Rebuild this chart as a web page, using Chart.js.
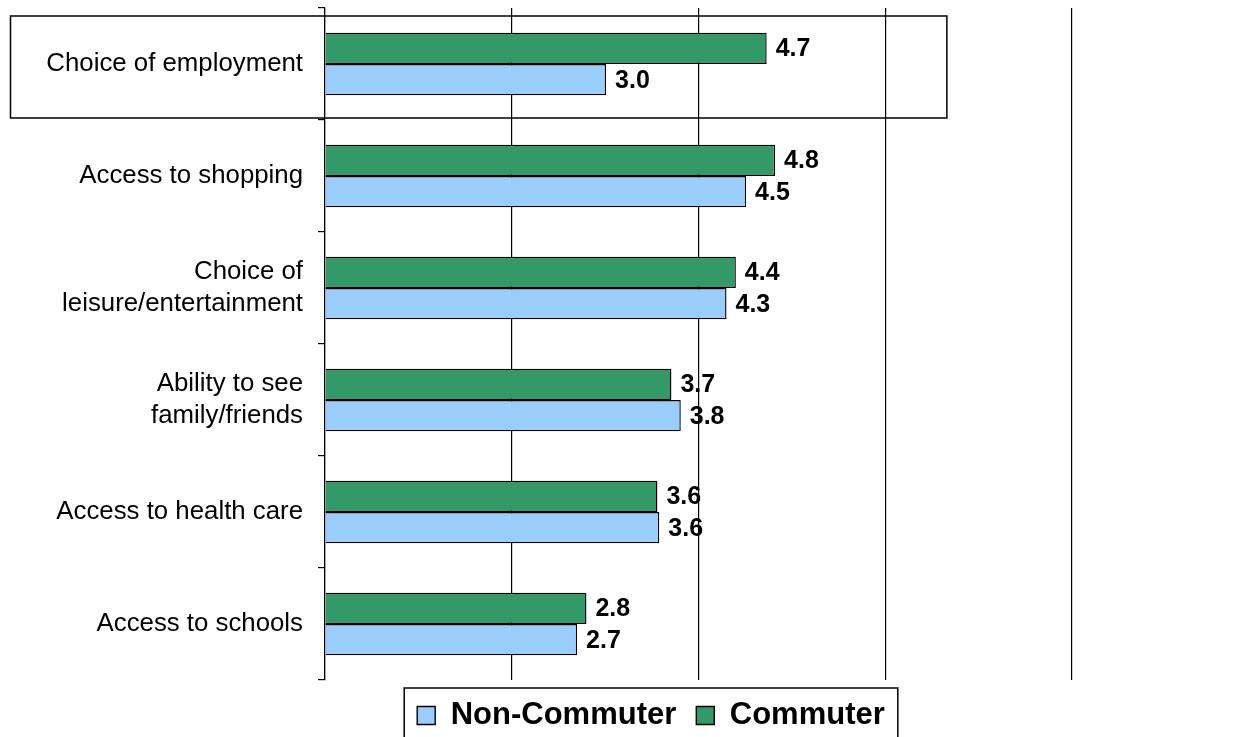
<!DOCTYPE html>
<html>
<head>
<meta charset="utf-8">
<script src="https://cdn.jsdelivr.net/npm/chart.js@4.4.1/dist/chart.umd.min.js"></script>
<style>
  html, body { margin: 0; padding: 0; background: #ffffff; overflow: hidden; }
  #wrap { position: relative; width: 1244px; height: 741px; }
</style>
</head>
<body>
<div id="wrap"><canvas id="chart"></canvas></div>
<script>
// ---- data ----
const categories = [
  'Choice of employment',
  'Access to shopping',
  ['Choice of', 'leisure/entertainment'],
  ['Ability to see', 'family/friends'],
  'Access to health care',
  'Access to schools'
];
const seriesNames = ['Commuter', 'Non-Commuter'];
const commuterValues = [4.73, 4.82, 4.40, 3.71, 3.56, 2.80];
const nonCommuterValues = [3.01, 4.51, 4.30, 3.81, 3.58, 2.70];
const xTickValues = [0, 2, 4, 6, 8];
const highlightedCategory = 0;

// ---- styling ----
const FONT = '"Liberation Sans", Arial, Helvetica, sans-serif';
const GREEN = '#339966';
const BLUE = '#99CCFF';

const valueLabels = {
  id: 'valueLabels',
  afterDatasetsDraw(chart) {
    const ctx = chart.ctx;
    ctx.save();
    ctx.font = 'bold 25px ' + FONT;
    ctx.fillStyle = '#000';
    ctx.textAlign = 'left';
    ctx.textBaseline = 'middle';
    chart.data.datasets.forEach((ds, di) => {
      const meta = chart.getDatasetMeta(di);
      meta.data.forEach((bar, i) => {
        ctx.fillText(ds.data[i].toFixed(1), bar.x + 9, bar.y + 1);
      });
    });
    ctx.restore();
  }
};

const highlightBox = {
  id: 'highlightBox',
  afterDraw(chart) {
    const y = chart.scales.y, x = chart.scales.x;
    const cy = y.getPixelForValue(highlightedCategory);
    const half = (chart.chartArea.bottom - chart.chartArea.top) / categories.length / 2;
    const ctx = chart.ctx;
    ctx.save();
    ctx.strokeStyle = '#000';
    ctx.lineWidth = 1.5;
    const left = 10.5, right = x.getPixelForValue(6.66);
    const top = cy - half + 8, bottom = cy + half - 2;
    ctx.strokeRect(left, top, right - left, bottom - top);
    ctx.restore();
  }
};

const legendFrame = {
  id: 'legendFrame',
  afterLayout(chart) {
    const lg = chart.legend;
    if (!lg) return;
    const shift = 115;
    lg.left += shift;
    lg.right += shift;
  },
  afterDraw(chart) {
    const lg = chart.legend;
    if (!lg || !lg.legendHitBoxes || !lg.legendHitBoxes.length) return;
    const hb = lg.legendHitBoxes;
    let l = Infinity, r = -Infinity;
    hb.forEach(b => { l = Math.min(l, b.left); r = Math.max(r, b.left + b.width); });
    const ctx = chart.ctx;
    ctx.save();
    ctx.strokeStyle = '#000';
    ctx.lineWidth = 1.5;
    ctx.strokeRect(l - 13, lg.top + 8, (r + 13) - (l - 13), lg.bottom - lg.top + 20);
    ctx.restore();
  }
};

new Chart(document.getElementById('chart'), {
  type: 'bar',
  data: {
    labels: categories,
    datasets: [
      { label: seriesNames[0], data: commuterValues, backgroundColor: GREEN, borderColor: '#000', borderWidth: 1.4 },
      { label: seriesNames[1], data: nonCommuterValues, backgroundColor: BLUE, borderColor: '#000', borderWidth: 1.4 }
    ]
  },
  options: {
    indexAxis: 'y',
    responsive: true,
    maintainAspectRatio: false,
    animation: false,
    devicePixelRatio: 1,
    categoryPercentage: 0.56,
    barPercentage: 1.0,
    layout: { padding: { top: 8, left: 0, right: 172, bottom: 0 } },
    scales: {
      x: {
        min: xTickValues[0],
        max: xTickValues[xTickValues.length - 1],
        afterBuildTicks(scale) { scale.ticks = xTickValues.map(v => ({ value: v })); },
        afterFit(scale) { scale.height = 0; scale.paddingLeft = 0; scale.paddingRight = 0; },
        ticks: { display: false },
        grid: { display: true, color: '#000', lineWidth: 1.2, drawTicks: false },
        border: { display: false }
      },
      y: {
        afterFit(scale) { scale.width = 325; scale.paddingTop = 0; scale.paddingBottom = 0; },
        ticks: { color: '#000', font: { family: FONT, size: 25.8, lineHeight: 1.22 }, padding: 15, crossAlign: 'near' },
        grid: { display: true, drawOnChartArea: false, drawTicks: true, tickLength: 7, color: '#000', lineWidth: 1.2 },
        border: { display: true, color: '#000', width: 1.2 }
      }
    },
    plugins: {
      legend: {
        position: 'bottom',
        reverse: true,
        labels: {
          color: '#000',
          font: { family: FONT, size: 31, weight: 'bold' },
          boxWidth: 18,
          boxHeight: 18,
          padding: 20
        }
      },
      tooltip: { enabled: false }
    }
  },
  plugins: [valueLabels, highlightBox, legendFrame]
});
</script>
</body>
</html>
